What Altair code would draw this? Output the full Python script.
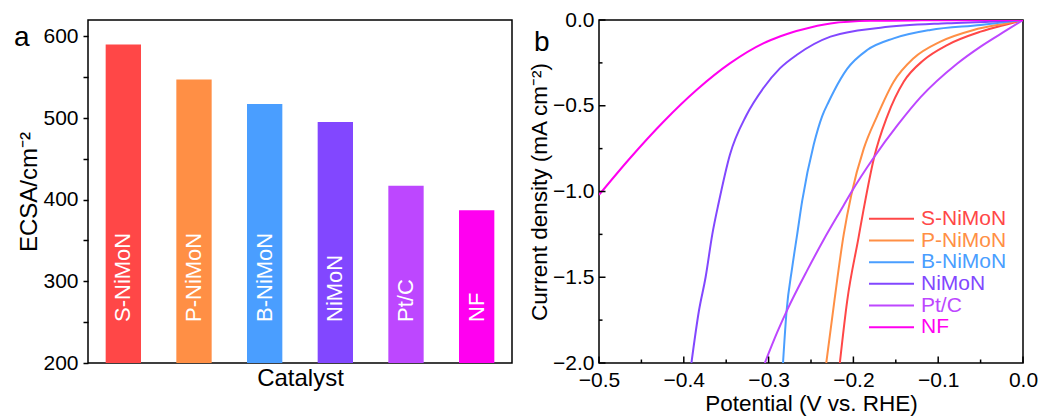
import altair as alt
import pandas as pd

# ---------------- data ----------------
catalysts = ["S-NiMoN", "P-NiMoN", "B-NiMoN", "NiMoN", "Pt/C", "NF"]
ecsa = [590, 547, 517, 495, 417, 387]
bar_colors = ["#FF4747", "#FF8F45", "#4A9EFF", "#8247FF", "#BD47FF", "#FF00F0"]
line_colors = ["#E8262A", "#F5883A", "#3A9BF0", "#6A3DF0", "#A541F2", "#F21EEA"]

v_s = [-0.216, -0.2074, -0.194, -0.1878, -0.176, -0.160, -0.1407, -0.117, -0.0895, -0.05, -0.015, 0.0]
j_s = [-2.0, -1.64, -1.27, -1.10, -0.81, -0.56, -0.36, -0.233, -0.146, -0.068, -0.02, 0.0]

v_p = [-0.232, -0.2225, -0.2114, -0.2025, -0.1878, -0.172, -0.1525, -0.129, -0.0974, -0.0582, -0.019, 0.0]
j_p = [-2.0, -1.64, -1.25, -1.02, -0.75, -0.56, -0.36, -0.223, -0.126, -0.058, -0.019, 0.0]

v_b = [-0.283, -0.2788, -0.2722, -0.2663, -0.2604, -0.2467, -0.2368, -0.229, -0.223, -0.2074, -0.1838, -0.1525, -0.1092, -0.05, 0.0]
j_b = [-2.0, -1.697, -1.444, -1.25, -1.055, -0.725, -0.56, -0.475, -0.415, -0.285, -0.175, -0.107, -0.058, -0.029, 0.0]

v_n = [-0.391, -0.3822, -0.3743, -0.3664, -0.3586, -0.3457, -0.326, -0.3063, -0.2867, -0.267, -0.227, -0.168, -0.0895, -0.04, 0.0]
j_n = [-2.0, -1.697, -1.50, -1.25, -1.06, -0.787, -0.554, -0.398, -0.282, -0.204, -0.097, -0.045, -0.019, -0.01, 0.0]

v_pt = [-0.3045, -0.2898, -0.278, -0.2545, -0.2349, -0.2114, -0.2032, -0.1757, -0.1482, -0.1207, -0.0778, -0.050, -0.0188, 0.0]
j_pt = [-2.0, -1.82, -1.69, -1.46, -1.28, -1.08, -1.01, -0.80, -0.615, -0.45, -0.255, -0.155, -0.058, 0.0]

v_nf = [-0.5, -0.4635, -0.424, -0.385, -0.3457, -0.3063, -0.286, -0.271, -0.2624, -0.227, -0.18, -0.12, -0.06, 0.0]
j_nf = [-1.02, -0.806, -0.593, -0.408, -0.253, -0.136, -0.095, -0.07, -0.058, -0.02, -0.005, -0.002, -0.001, 0.0]

ecsa_ticks = [200, 250, 300, 350, 400, 450, 500, 550, 600]
pot_major = [-0.5, -0.4, -0.3, -0.2, -0.1, 0.0]
pot_minor = [-0.45, -0.35, -0.25, -0.15, -0.05]
cur_major = [-2.0, -1.5, -1.0, -0.5, 0.0]
cur_minor = [-1.75, -1.25, -0.75, -0.25]

FONT = "Liberation Sans"

# ---------------- panel a ----------------
bar_df = pd.DataFrame({"Catalyst": catalysts, "ECSA": ecsa})
xband = alt.Scale(domain=catalysts, paddingInner=0.5, paddingOuter=0.25)
yscale_l = alt.Scale(domain=[200, 620], nice=False, zero=False, clamp=True)
yaxis_l = alt.Axis(values=ecsa_ticks,
                   labelExpr="datum.value % 100 == 0 ? datum.label : ''",
                   tickSize=5, tickWidth=1.5, tickColor="black", domain=False, grid=False,
                   labelFontSize=21, labelPadding=5, title="ECSA/cm⁻²",
                   titleFontSize=24, titlePadding=1, titleFontWeight="normal")
xaxis_l = alt.Axis(labels=False, ticks=False, domain=False, grid=False, title="Catalyst",
                   titleFontSize=24, titlePadding=3, titleFontWeight="normal")

bars = alt.Chart(bar_df).mark_bar().encode(
    x=alt.X("Catalyst:N", scale=xband, axis=xaxis_l),
    y=alt.Y("ECSA:Q", scale=yscale_l, axis=yaxis_l),
    color=alt.Color("Catalyst:N", scale=alt.Scale(domain=catalysts, range=bar_colors), legend=None),
)
bar_labels = alt.Chart(bar_df).mark_text(
    angle=270, align="left", baseline="middle", color="white",
    font=FONT, fontSize=22,
).encode(
    x=alt.X("Catalyst:N", scale=xband, axis=xaxis_l),
    y=alt.value(302),
    text="Catalyst:N",
)
letter_a = alt.Chart(pd.DataFrame({"t": ["a"]})).mark_text(
    align="left", baseline="alphabetic", fontSize=28, font=FONT, color="black"
).encode(x=alt.value(-74), y=alt.value(26), text="t:N")

left = alt.layer(bars, bar_labels, letter_a).properties(width=424, height=343)

# ---------------- panel b ----------------
series = [
    ("S-NiMoN", v_s, j_s), ("P-NiMoN", v_p, j_p), ("B-NiMoN", v_b, j_b),
    ("NiMoN", v_n, j_n), ("Pt/C", v_pt, j_pt), ("NF", v_nf, j_nf),
]
rows = []
for name, vs, js in series:
    for v, j in zip(vs, js):
        rows.append({"Sample": name, "V": v, "J": j})
curve_df = pd.DataFrame(rows)

xs = alt.Scale(domain=[-0.5, 0.0], nice=False, zero=False)
ys = alt.Scale(domain=[-2.0, 0.0], nice=False, zero=False)
xaxis_r = alt.Axis(values=pot_major, format=".1f", ticks=False, domain=False, grid=False,
                   labelFlush=False, labelFontSize=21, labelPadding=6,
                   title="Potential (V vs. RHE)", titleFontSize=22.5, titlePadding=2,
                   titleFontWeight="normal")
yaxis_r = alt.Axis(values=cur_major, format=".1f", ticks=False, domain=False, grid=False,
                   labelFlush=False, labelFontSize=21, labelPadding=5,
                   title="Current density (mA cm⁻²)", titleFontSize=22.5, titlePadding=1,
                   titleFontWeight="normal")
color_r = alt.Color("Sample:N", scale=alt.Scale(domain=catalysts, range=line_colors), legend=None)

lines = alt.Chart(curve_df).mark_line(strokeWidth=2, interpolate="monotone", clip=True).encode(
    x=alt.X("V:Q", scale=xs, axis=xaxis_r),
    y=alt.Y("J:Q", scale=ys, axis=yaxis_r),
    color=color_r,
)
xt_major = alt.Chart(pd.DataFrame({"V": pot_major})).mark_rule(color="black", strokeWidth=1.5).encode(
    x=alt.X("V:Q", scale=xs, axis=xaxis_r), y=alt.value(343), y2=alt.value(336.5))
xt_minor = alt.Chart(pd.DataFrame({"V": pot_minor})).mark_rule(color="black", strokeWidth=1.5).encode(
    x=alt.X("V:Q", scale=xs, axis=xaxis_r), y=alt.value(343), y2=alt.value(339.5))
yt_major = alt.Chart(pd.DataFrame({"J": cur_major})).mark_rule(color="black", strokeWidth=1.5).encode(
    y=alt.Y("J:Q", scale=ys, axis=yaxis_r), x=alt.value(0), x2=alt.value(6.5))
yt_minor = alt.Chart(pd.DataFrame({"J": cur_minor})).mark_rule(color="black", strokeWidth=1.5).encode(
    y=alt.Y("J:Q", scale=ys, axis=yaxis_r), x=alt.value(0), x2=alt.value(3.5))
letter_b = alt.Chart(pd.DataFrame({"t": ["b"]})).mark_text(
    align="left", baseline="alphabetic", fontSize=28, font=FONT, color="black"
).encode(x=alt.value(-65), y=alt.value(31), text="t:N")

main_r = alt.layer(lines, xt_major, xt_minor, yt_major, yt_minor, letter_b)

leg_df = pd.DataFrame({"Sample": catalysts})
leg_y = alt.Y("Sample:N", scale=alt.Scale(domain=catalysts, range=[188, 318], padding=0), axis=None)
leg_rule = alt.Chart(leg_df).mark_rule(strokeWidth=2).encode(
    y=leg_y, x=alt.value(270), x2=alt.value(315), color=color_r)
leg_text = alt.Chart(leg_df).mark_text(align="left", baseline="middle", fontSize=21, font=FONT).encode(
    y=leg_y, x=alt.value(322), text="Sample:N", color=color_r)
legend_r = alt.layer(leg_rule, leg_text)

right = alt.layer(main_r, legend_r).resolve_scale(y="independent").properties(width=424, height=343)

chart = alt.hconcat(left, right, spacing=87, bounds="flush").properties(
    padding={"left": 13, "top": 8, "right": 5, "bottom": 5}
).configure(font=FONT).configure_view(
    stroke="black", strokeWidth=1.5
).configure_axis(labelColor="black", titleColor="black", labelFont=FONT, titleFont=FONT)

chart.save("out.html", embed_options={"renderer": "svg", "actions": False})
